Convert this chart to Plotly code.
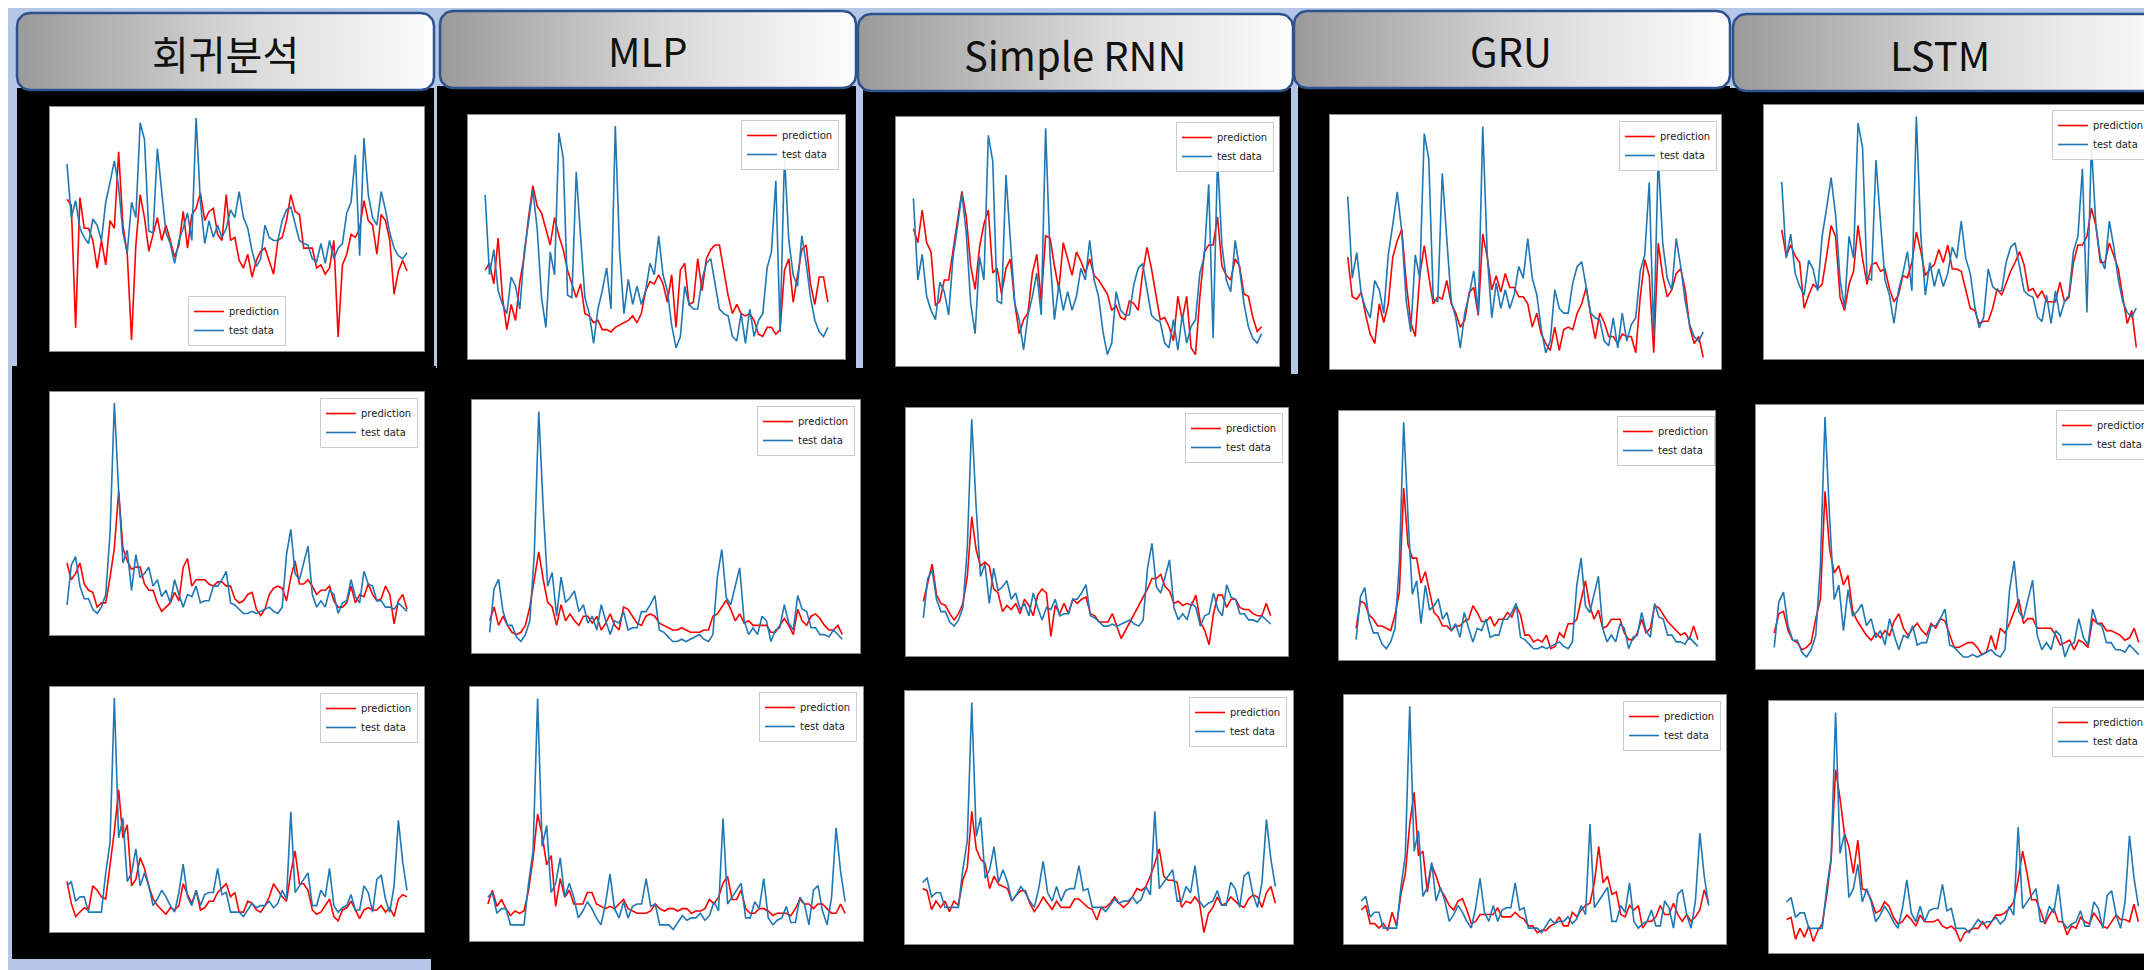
import math
import plotly.graph_objects as go

W, H = 2152, 970

# ---------------- data ----------------
models = ["회귀분석", "MLP", "Simple RNN", "GRU", "LSTM"]
series_names = ["prediction", "test data"]
steps = list(range(80))

test_r1 = [70, 35, 46, 28, 22, 18, 34, 30, 20, 45,
           58, 72, 55, 25, 12, 45, 35, 97, 86, 26,
           25, 80, 52, 25, 18, 5, 20, 28, 38, 20,
           100, 45, 18, 33, 22, 30, 22, 28, 40, 35,
           52, 35, 28, 13, 3, 8, 30, 22, 20, 20,
           33, 40, 42, 30, 20, 18, 17, 8, 6, 18,
           5, 20, 8, 15, 18, 38, 45, 76, 10, 87,
           50, 35, 30, 52, 40, 25, 15, 10, 8, 12]
pred_r1_reg = [47, 43, -37, 48, 28, 28, 20, 2, 20, 4,
               33, 28, 78, 30, 11, -45, 17, 50, 35, 13,
               24, 35, 20, 30, 20, 9, 17, 39, 15, 37,
               41, 51, 33, 39, 41, 24, 20, 50, 20, 22,
               7, 2, 11, -4, 7, 13, 15, 7, -2, 20,
               22, 33, 50, 39, 37, 15, 15, 15, 2, 4,
               -2, 2, 20, -43, 4, 11, 24, 22, 28, 46,
               33, 30, 11, 37, 33, 20, -15, 0, 7, 0]
pred_r1_mlp = [37, 40, 31, 51, 25, 11, 22, 15, 32, 43,
               60, 74, 65, 62, 55, 48, 60, 52, 46, 37,
               31, 25, 31, 18, 17, 14, 15, 11, 11, 10,
               12, 13, 14, 15, 17, 14, 18, 28, 32, 31,
               35, 31, 23, 35, 12, 37, 40, 22, 23, 42,
               28, 42, 46, 48, 48, 37, 26, 18, 22, 18,
               17, 18, 15, 9, 8, 12, 12, 9, 11, 37,
               42, 23, 34, 46, 48, 31, 22, 34, 34, 23]
pred_r1_rnn = [57, 51, 65, 51, 47, 24, 26, 35, 35, 47,
               59, 73, 62, 41, 31, 49, 59, 65, 38, 40,
               29, 40, 44, 25, 12, 18, 21, 38, 46, 26,
               54, 53, 41, 31, 51, 44, 37, 47, 43, 38,
               44, 37, 35, 32, 29, 22, 24, 19, 18, 26,
               25, 22, 38, 49, 40, 29, 18, 19, 15, 9,
               28, 18, 28, 6, 3, 28, 47, 50, 50, 62,
               41, 37, 35, 44, 41, 29, 28, 19, 13, 15]
pred_r1_gru = [44, 27, 26, 29, 19, 11, 7, 24, 16, 24,
               44, 51, 56, 33, 16, 10, 36, 49, 36, 24,
               27, 26, 34, 24, 20, 14, 17, 29, 31, 19,
               54, 44, 30, 36, 29, 37, 31, 31, 27, 27,
               24, 14, 20, 11, 7, 4, 14, 4, 13, 14,
               13, 20, 24, 31, 19, 9, 20, 16, 10, 10,
               7, 11, 10, 10, 3, 27, 43, 36, 3, 50,
               36, 27, 30, 37, 39, 30, 14, 7, 10, 1]
pred_r1_lstm = [48, 36, 41, 36, 33, 12, 18, 23, 21, 23,
                36, 50, 45, 17, 11, 23, 29, 50, 35, 23,
                32, 33, 29, 30, 21, 15, 18, 27, 26, 33,
                47, 38, 27, 30, 32, 39, 33, 41, 30, 30,
                29, 20, 12, 11, 5, 6, 6, 12, 21, 18,
                24, 29, 33, 38, 32, 20, 21, 17, 20, 15,
                15, 15, 24, 15, 17, 33, 41, 41, 45, 58,
                50, 33, 33, 42, 36, 30, 17, 5, 11, -6]

test_r2 = [4, 23, 27, 13, 7, 7, 2, 0, 3, 9,
           38, 100, 58, 24, 30, 11, 28, 17, 19, 22,
           13, 16, 8, 11, 5, 16, 9, 3, 9, 8,
           13, 5, 6, 6, 13, 13, 16, 20, 5, 4,
           2, 0, 0, 1, 0, 1, 2, 3, 1, 0,
           3, 28, 40, 19, 16, 24, 32, 9, 3, 6,
           3, 11, 9, 0, 5, 6, 16, 8, 5, 20,
           14, 13, 6, 6, 3, 3, 2, 5, 3, 1]
pred_r2_reg = [24, 16, 19, 24, 14, 11, 10, 3, 5, 5,
               17, 31, 58, 31, 25, 21, 22, 22, 14, 11,
               11, 5, 1, 3, 5, 10, 6, 22, 26, 13,
               16, 16, 16, 14, 13, 15, 15, 13, 13, 7,
               5, 6, 9, 10, 2, -1, 2, 9, 12, 13,
               12, 6, 17, 25, 14, 14, 16, 13, 9, 11,
               11, 13, 6, 3, 3, 5, 13, 5, 9, 8,
               14, 9, 6, 7, 13, 9, -5, 6, 9, 2]
pred_r2_mlp = [9, 15, 7, 11, 7, 4, 3, 4, 7, 15,
               27, 39, 27, 17, 15, 7, 16, 9, 12, 9,
               7, 11, 11, 8, 11, 5, 8, 12, 7, 5,
               15, 14, 11, 8, 7, 11, 12, 11, 8, 7,
               6, 5, 5, 6, 5, 4, 4, 4, 5, 5,
               11, 12, 15, 18, 14, 9, 12, 8, 9, 7,
               7, 7, 7, 4, 4, 7, 10, 7, 3, 14,
               9, 7, 11, 12, 10, 7, 5, 5, 7, 3]
pred_r2_rnn = [12, 21, 30, 15, 11, 10, 6, 3, 6, 11,
               24, 53, 37, 29, 31, 29, 18, 16, 7, 10,
               8, 11, 6, 13, 10, 5, 15, 18, 16, -5,
               10, 6, 11, 6, 13, 11, 13, 14, 6, 5,
               2, 2, 2, 6, 0, -6, -2, 2, 6, 10,
               14, 18, 23, 23, 25, 19, 17, 11, 12, 10,
               11, 10, 15, 2, -2, -9, 6, 15, 15, 9,
               13, 13, 9, 8, 8, 6, 5, 5, 11, 5]
pred_r2_gru = [9, 21, 20, 15, 13, 10, 10, 9, 8, 15,
               25, 71, 46, 40, 40, 29, 34, 25, 16, 14,
               10, 10, 8, 10, 10, 12, 13, 19, 16, 12,
               12, 14, 10, 13, 13, 16, 14, 19, 15, 6,
               6, 3, 4, 3, 6, 0, 1, 7, 5, 11,
               11, 13, 21, 30, 19, 13, 17, 9, 10, 13,
               13, 13, 7, 4, 4, 7, 13, 7, 9, 19,
               18, 15, 12, 10, 8, 6, 7, 4, 10, 4]
pred_r2_lstm = [10, 18, 19, 11, 7, 6, 3, 4, 6, 16,
                24, 69, 45, 35, 38, 30, 34, 19, 15, 12,
                9, 7, 10, 8, 11, 9, 15, 18, 12, 9,
                12, 14, 11, 9, 14, 12, 16, 15, 9, 4,
                4, 5, 6, 6, 4, 1, 2, 9, 3, 12,
                10, 14, 19, 24, 14, 16, 16, 12, 12, 12,
                12, 9, 5, 6, 7, 3, 7, 6, 4, 16,
                14, 14, 11, 11, 10, 9, 7, 8, 12, 6]

test_r3 = [14, 16, 7, 9, 9, 2, 2, 2, 2, 20,
           34, 100, 36, 45, 16, 20, 31, 14, 20, 14,
           5, 8, 12, 9, 5, 2, 11, 24, 9, 5,
           12, 5, 10, 11, 11, 22, 10, 11, 2, 2,
           2, 0, 3, 6, 4, 5, 5, 7, 4, 6,
           12, 8, 48, 11, 14, 17, 20, 5, 5, 12,
           9, 22, 5, 2, 4, 5, 10, 3, 3, 14,
           11, 2, 17, 19, 8, 2, 14, 44, 25, 12]
pred_r3_reg = [16, 6, 0, 2, 4, 3, 14, 12, 9, 8,
               23, 39, 58, 36, 42, 14, 17, 27, 22, 14,
               8, 5, 3, 1, 4, 3, 5, 15, 10, 6,
               12, 3, 4, 7, 7, 11, 13, 15, 9, 11,
               2, 2, 7, 6, 3, 2, 5, 9, 15, 12,
               9, 7, 20, 30, 15, 15, 12, 3, 1, 2,
               5, 8, 0, -2, 3, 4, 7, 3, -1, 3,
               4, 3, 3, 5, 2, 4, 0, 8, 10, 9]
pred_r3_mlp = [11, 17, 10, 13, 9, 6, 8, 7, 8, 17,
               31, 50, 41, 28, 32, 10, 22, 14, 17, 11,
               11, 11, 16, 16, 11, 10, 9, 10, 9, 11,
               13, 9, 8, 7, 7, 7, 8, 11, 9, 8,
               9, 9, 8, 9, 9, 7, 8, 8, 9, 13,
               11, 14, 20, 23, 13, 13, 17, 9, 7, 7,
               9, 9, 8, 6, 7, 7, 7, 6, 9, 13,
               11, 11, 9, 11, 11, 9, 7, 7, 11, 7]
pred_r3_rnn = [11, 10, 1, 5, 2, 5, 0, 5, 3, 15,
               21, 48, 30, 25, 23, 11, 17, 13, 12, 11,
               5, 8, 10, 10, 4, 0, 3, 7, 4, 1,
               5, 2, 2, 2, 6, 6, 4, 2, 1, -4,
               2, 2, 4, 7, 4, 2, 4, 7, 11, 10,
               12, 17, 23, 30, 17, 15, 15, 14, 2, 5,
               4, 7, 4, -10, -1, 2, 7, 3, 4, 7,
               5, 3, 2, 6, 8, 7, 2, 9, 12, 4]
pred_r3_gru = [10, 12, 4, 4, 2, 4, 1, 9, 3, 17,
               26, 48, 62, 34, 36, 18, 30, 25, 19, 16,
               12, 10, 14, 15, 10, 4, 5, 8, 8, 8,
               8, 11, 7, 7, 7, 9, 7, 6, 3, 3,
               0, 1, 1, 3, 4, 7, 3, 3, 9, 7,
               10, 12, 13, 22, 38, 22, 25, 17, 18, 8,
               7, 12, 10, 12, 2, 5, 5, 7, 12, 8,
               8, 13, 8, 5, 8, 5, 7, 10, 19, 13]
pred_r3_lstm = [6, 7, -3, 2, -2, 3, -4, 1, 4, 17,
                33, 74, 61, 45, 39, 27, 42, 20, 19, 15,
                9, 10, 14, 12, 7, 4, 5, 8, 6, 3,
                8, 5, 5, 5, 6, 3, 2, 3, 1, -4,
                0, 1, 2, 2, 5, 2, 5, 8, 8, 9,
                11, 14, 24, 37, 27, 15, 15, 10, 4, 8,
                11, 5, 5, -1, 3, 2, 7, 5, 4, 9,
                6, 3, 2, 5, 8, 6, 6, 5, 13, 5]

tests = [test_r1, test_r2, test_r3]
preds = [
    [pred_r1_reg, pred_r1_mlp, pred_r1_rnn, pred_r1_gru, pred_r1_lstm],
    [pred_r2_reg, pred_r2_mlp, pred_r2_rnn, pred_r2_gru, pred_r2_lstm],
    [pred_r3_reg, pred_r3_mlp, pred_r3_rnn, pred_r3_gru, pred_r3_lstm],
]

# ---------------- layout geometry (pixels) ----------------
plot_boxes = [
    [(42, 99, 416, 343), (460, 107, 837, 351), (888, 109, 1271, 358), (1322, 107, 1713, 361), (1756, 97, 2146, 351)],
    [(42, 384, 416, 627), (464, 392, 852, 645), (898, 400, 1280, 648), (1331, 403, 1707, 652), (1748, 397, 2149, 661)],
    [(42, 679, 416, 924), (462, 679, 855, 933), (897, 683, 1285, 936), (1336, 687, 1718, 936), (1761, 693, 2148, 945)],
]
legend_pos = [
    [(229, 338, "center", "bottom"), (831, 112, "right", "top"), (1266, 114, "right", "top"), (1709, 113, "right", "top"), (2142, 102, "right", "top")],
    [(410, 390, "right", "top"), (847, 398, "right", "top"), (1275, 405, "right", "top"), (1707, 408, "right", "top"), (2146, 402, "right", "top")],
    [(410, 685, "right", "top"), (849, 684, "right", "top"), (1279, 689, "right", "top"), (1713, 693, "right", "top"), (2142, 699, "right", "top")],
]
black_rects = [
    (9, 80, 426, 362), (4, 358, 428, 951),
    (429, 78, 848, 366), (423, 360, 858, 962),
    (855, 80, 1283, 374), (850, 366, 1292, 963),
    (1290, 78, 1722, 374), (1285, 370, 1725, 963),
    (1722, 80, 2152, 970),
]
headers = [(9, 5, 426, 82), (432, 3, 848, 80), (850, 6, 1285, 83), (1286, 3, 1722, 80), (1725, 6, 2165, 83)]
header_text_pos = [(218, 45), (640, 42), (1067, 46), (1503, 42), (1932, 46)]

RED = "#ff0000"
BLUE = "#1f77b4"
BG = "#b4c7e7"


def px(x):
    return x / W


def py(y):
    return 1 - y / H


fig = go.Figure()
shapes = []
layout = dict(
    width=W, height=H,
    margin=dict(l=0, r=0, t=0, b=0),
    paper_bgcolor=BG,
    plot_bgcolor="rgba(0,0,0,0)",
    showlegend=True,
    annotations=[],
)

for (x0, y0, x1, y1) in black_rects:
    shapes.append(dict(type="rect", xref="paper", yref="paper", layer="below",
                       x0=px(x0), x1=px(x1), y0=py(y1), y1=py(y0),
                       fillcolor="black", line=dict(width=0)))

k = 0
for r in range(3):
    for c in range(5):
        k += 1
        xa = "x" if k == 1 else f"x{k}"
        ya = "y" if k == 1 else f"y{k}"
        lg = "legend" if k == 1 else f"legend{k}"
        left, top, right, bottom = plot_boxes[r][c]
        p = preds[r][c]
        t = tests[r]
        lo = min(min(p), min(t))
        hi = max(max(p), max(t))
        span = hi - lo
        fig.add_trace(go.Scatter(x=steps, y=p, mode="lines", name=series_names[0],
                                 line=dict(color=RED, width=1.6), xaxis=xa, yaxis=ya,
                                 legend=lg, hoverinfo="skip"))
        fig.add_trace(go.Scatter(x=steps, y=t, mode="lines", name=series_names[1],
                                 line=dict(color=BLUE, width=1.6), xaxis=xa, yaxis=ya,
                                 legend=lg, hoverinfo="skip"))
        axkey = "xaxis" if k == 1 else f"xaxis{k}"
        aykey = "yaxis" if k == 1 else f"yaxis{k}"
        common = dict(showline=True, mirror=True, linecolor="#8a8a8a", linewidth=1,
                      showticklabels=False, ticks="", showgrid=False, zeroline=False,
                      fixedrange=True)
        layout[axkey] = dict(domain=[px(left), px(right)], anchor=ya,
                             range=[-0.05 * (len(steps) - 1), (len(steps) - 1) * 1.05], **common)
        layout[aykey] = dict(domain=[py(bottom), py(top)], anchor=xa,
                             range=[lo - 0.05 * span, hi + 0.05 * span], **common)
        shapes.append(dict(type="rect", xref=f"{xa} domain", yref=f"{ya} domain", layer="below",
                           x0=0, x1=1, y0=0, y1=1, fillcolor="white", line=dict(width=0)))
        lx, ly, xanc, yanc = legend_pos[r][c]
        layout[lg] = dict(x=px(lx), y=py(ly), xanchor=xanc, yanchor=yanc,
                          bgcolor="rgba(255,255,255,0.9)", bordercolor="#cccccc", borderwidth=1,
                          font=dict(family="DejaVu Sans", size=10, color="#222222"),
                          itemwidth=30, tracegroupgap=0, itemclick=False, itemdoubleclick=False)


# header boxes on a full-figure overlay axis (gradient fill)
def rounded_rect(x0, y0, x1, y1, rad, n=8):
    xs, ys = [], []
    corners = [(x1 - rad, y0 + rad, -90, 0), (x1 - rad, y1 - rad, 0, 90),
               (x0 + rad, y1 - rad, 90, 180), (x0 + rad, y0 + rad, 180, 270)]
    for cx, cy, a0, a1 in corners:
        for i in range(n + 1):
            a = math.radians(a0 + (a1 - a0) * i / n)
            xs.append(cx + rad * math.cos(a))
            ys.append(cy + rad * math.sin(a))
    xs.append(xs[0])
    ys.append(ys[0])
    return xs, ys


for (x0, y0, x1, y1), (tx, ty), name in zip(headers, header_text_pos, models):
    hx, hy = rounded_rect(x0, y0, x1, y1, 13)
    fig.add_trace(go.Scatter(x=hx, y=hy, mode="lines", fill="toself",
                             fillgradient=dict(type="horizontal", start=x0, stop=x1,
                                               colorscale=[[0, "#9a9a9a"], [0.55, "#d9d9d9"], [1, "#fdfdfd"]]),
                             line=dict(color="#2f528f", width=2.5),
                             xaxis="x16", yaxis="y16", showlegend=False, hoverinfo="skip"))
    layout["annotations"].append(dict(text=name, x=px(tx), y=py(ty), xref="paper", yref="paper",
                                      xanchor="center", yanchor="middle", showarrow=False,
                                      font=dict(family="Noto Sans CJK KR", size=40, color="#111111")))

layout["xaxis16"] = dict(domain=[0, 1], range=[0, W], visible=False, fixedrange=True, anchor="y16")
layout["yaxis16"] = dict(domain=[0, 1], range=[H, 0], visible=False, fixedrange=True, anchor="x16")
layout["shapes"] = shapes

fig.update_layout(**layout)
fig.write_html("out.html")
